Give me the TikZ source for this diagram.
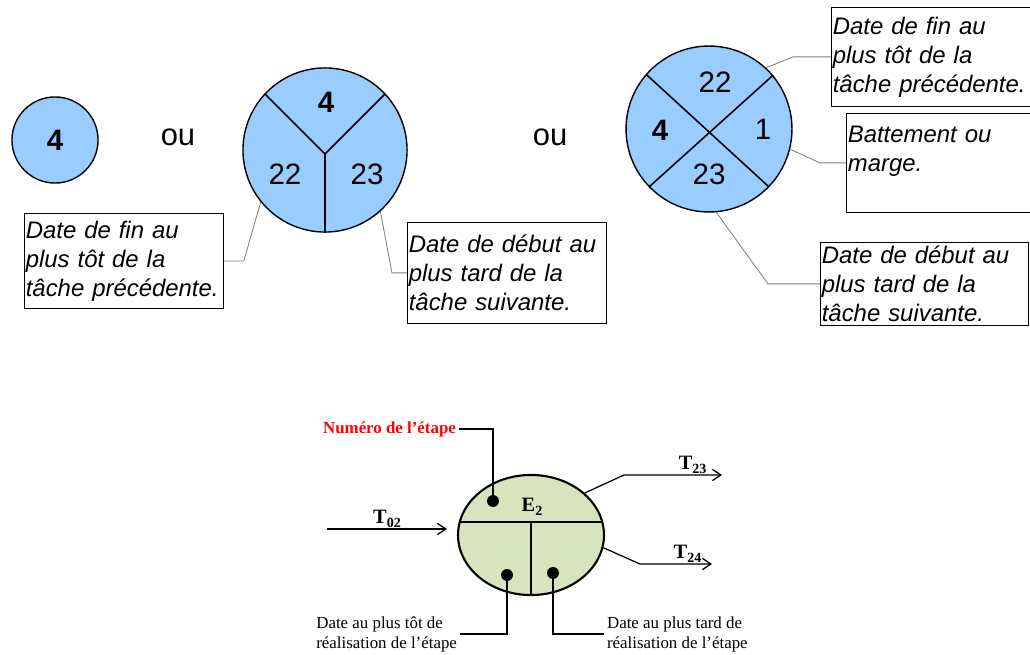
\documentclass[tikz,border=0pt]{standalone}
\usepackage{fontspec}
\setmainfont{Liberation Serif}
\newfontfamily\arial{Liberation Sans}
\usepackage{tikz}
\usetikzlibrary{arrows.meta,shapes.geometric,calc}
\definecolor{taskblue}{RGB}{153,204,255}
\definecolor{stepgreen}{RGB}{215,228,189}
\newcommand{\tsub}[2]{\textbf{#1}\raisebox{-0.45ex}{\fontsize{10}{10}\selectfont\bfseries #2}}

\begin{document}
\begin{tikzpicture}[x=0.025cm, y=-0.025cm, every node/.style={inner sep=0pt},
	task/.style={circle, draw, line width=1pt, fill=taskblue},
	num/.style={font=\arial\fontsize{21}{21}\selectfont},
	box/.style={draw, line width=0.6pt, anchor=north west, align=left, inner xsep=1pt, inner ysep=1pt, font=\arial\itshape\fontsize{17}{20.6}\selectfont},
	lead/.style={gray, line width=0.6pt},
	dot/.style={circle, fill, minimum size=8.5pt},
	small/.style={font=\fontsize{12}{14.3}\selectfont, align=left, inner xsep=2pt},
	tlab/.style={font=\fontsize{14.5}{14.5}\selectfont},
	arr/.style={line width=0.9pt, -{Straight Barb[length=6pt, width=8pt, line width=0.9pt]}}]
	\useasboundingbox (0,0) rectangle (1030,655);
	\node[task, minimum size=61.2pt] (c1) at (55,140) {};
	\node[num] (c1n) at (c1) {\bfseries 4};
	\node[font=\arial\fontsize{22}{22}\selectfont] (ou1) at (178,137) {ou};
	\node[font=\arial\fontsize{22}{22}\selectfont] (ou2) at (550,137) {ou};
	\node[task, minimum size=116.7pt] (c2) at (325,150) {};
	\coordinate (c2m) at (325,154);
	\draw[line width=1.1pt] (c2.137) -- (c2m) -- (c2.43) (c2m) -- (c2.south);
	\node[num] (c2a) at (326,102) {\bfseries 4};
	\node[num] (c2b) at (285,174) {22};
	\node[num] (c2c) at (367,174) {23};
	\node[task, minimum size=118pt] (c3) at (709,129) {};
	\draw[line width=1.1pt] (c3.139) -- (c3.-44) (c3.224) -- (c3.40);
	\node[num] (c3a) at (715,82) {22};
	\node[num] (c3b) at (660,130) {\bfseries 4};
	\node[num] (c3c) at (763,129) {1};
	\node[num] (c3d) at (709,174) {23};
	\node[box, text width=139.5pt, minimum height=67.6pt] (lb) at (24,213) {Date de fin au\\plus tôt de la\\tâche précédente.};
	\node[box, text width=139.5pt, minimum height=71.8pt] (rb) at (407,222) {Date de début au\\plus tard de la\\tâche suivante.};
	\node[box, text width=139.5pt, minimum height=70.4pt] (tr1) at (831,7) {Date de fin au\\plus tôt de la\\tâche précédente.};
	\node[box, text width=128.9pt, minimum height=70.4pt] (tr2) at (846,113) {Battement ou\\marge.\\\mbox{}};
	\node[box, text width=146pt, minimum height=59pt] (tr3) at (820,242) {Date de début au\\plus tard de la\\tâche suivante.};
	\draw[lead] (c2.219) -- ($(lb.east)+(20,0)$) -- (lb.east);
	\draw[lead] (c2.312) -- ($(rb.west)+(-15,0)$) -- (rb.west);
	\draw[lead] (c3.47) -- ($(tr1.west)+(-38,0)$) -- (tr1.west);
	\draw[lead] (c3.-14.5) -- ($(tr2.west)+(-26,0)$) -- (tr2.west);
	\draw[lead] (c3.275.5) -- ($(tr3.west)+(-52,0)$) -- (tr3.west);
	\node[ellipse, draw, line width=1.5pt, fill=stepgreen, minimum width=103.8pt, minimum height=85.4pt] (e2) at (531,535) {};
	\draw[line width=1.2pt] (e2.170) -- (e2.10) (e2.south |- e2.170) -- (e2.south);
	\node[tlab] (e2n) at (532,507) {\tsub{E}{2}};
	\node[small, red, font=\fontsize{12}{14.3}\selectfont\bfseries, anchor=east] (num) at (459,429) {Numéro de l'étape};
	\node[small, anchor=east] (early) at (460,634) {Date au plus tôt de\\réalisation de l'étape};
	\node[small, anchor=west] (late) at (604,634) {Date au plus tard de\\réalisation de l'étape};
	\node[dot] (d1) at (493,501) {};
	\node[dot] (d2) at (507,575) {};
	\node[dot] (d3) at (553,573) {};
	\draw[line width=1.2pt] (d1) |- (num.east);
	\draw[line width=1.2pt] (d2) |- (early.east);
	\draw[line width=1.2pt] (d3) |- (late.west);
	\coordinate (t02) at (327,529);
	\coordinate (t23) at (722,475);
	\coordinate (t24) at (712,564);
	\draw[arr] (t02) -- ($(e2.west)+(-10,-6)$) node[midway, above=0.5pt, tlab] (t02n) {\tsub{T}{02}};
	\draw[arr] (e2.38) -- (624,475) -- (t23) node[pos=0.7, above=0.5pt, tlab] (t23n) {\tsub{T}{23}};
	\draw[arr] (e2.-10) -- (640,564) -- (t24) node[pos=0.66, above=0.5pt, tlab] (t24n) {\tsub{T}{24}};
\end{tikzpicture}
\end{document}
